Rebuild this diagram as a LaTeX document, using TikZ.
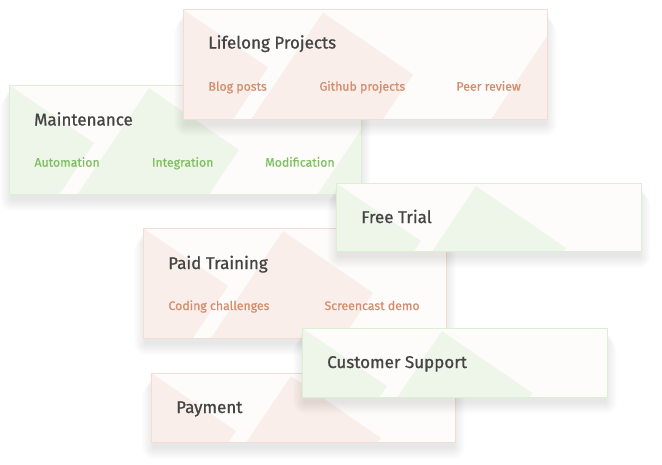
\documentclass[tikz,border=0pt]{standalone}
\usepackage{fontspec}
\setmainfont{Fira Sans}
\newfontfamily\titlefont{Fira Sans}[FakeBold=0.9]
\newfontfamily\itemfont{Fira Sans}[FakeBold=0.6]
\usetikzlibrary{calc}
\definecolor{cardbg}{HTML}{FDFCFA}
\definecolor{peborder}{HTML}{F2DDD3}
\definecolor{peshape}{HTML}{F9EEE9}
\definecolor{petext}{HTML}{D48C6E}
\definecolor{grborder}{HTML}{DCEED4}
\definecolor{grshape}{HTML}{EEF6EA}
\definecolor{grtext}{HTML}{7FBF62}
\definecolor{titletext}{HTML}{444444}
\tikzset{
  cardbox/.style={draw=#1border, fill=cardbg, line width=1pt, inner sep=0pt, outer sep=0pt, anchor=north west, rectangle},
  decoshape/.style={fill=#1shape},
  cardtitle/.style={anchor=base west, inner sep=0pt, text=titletext, font=\titlefont\fontsize{17}{19}\selectfont},
  carditem/.style={anchor=base west, inner sep=0pt, text=#1text, font=\itemfont\fontsize{12.3}{14}\selectfont},
}
\newcommand\drawcard[6]{%
  \foreach \s in {1,...,12}{
    \fill[black,opacity=0.007,rounded corners=\s pt] (#2-\s+3,#3+\s) rectangle (#2+#4+\s-2,#3+#5+\s+5);
  }
  \node[cardbox=#6, minimum width=#4pt, minimum height=#5pt] (#1) at (#2,#3) {};
  \begin{scope}
    \clip (#1.north west) rectangle (#1.south east);
    \begin{scope}[shift={(#2,#3)}]
      \fill[decoshape=#6] (-20,0) -- (0,0) -- (85,58) -- (-11,200) -- (-20,200) -- cycle;
      \fill[decoshape=#6] (140,3) -- (230,65) -- (139,200) -- (7.4,200) -- cycle;
      \fill[decoshape=#6] (380,3) -- (470,65) -- (379,200) -- (247.4,200) -- cycle;
    \end{scope}
  \end{scope}
  \draw[#6border, line width=1pt] (#1.north west) rectangle (#1.south east);
}
\begin{document}
\begin{tikzpicture}[x=1pt,y=-1pt]
\useasboundingbox (0,0) rectangle (662,464);
% Maintenance
\drawcard{mt}{9}{85}{352}{109}{gr}
\node[cardtitle] (mtT) at ($(mt.north west)+(25,40.5)$) {Maintenance};
\node[carditem=gr] (mt1) at ($(mt.north west)+(25.3,81.7)$) {Automation};
\node[carditem=gr] (mt2) at ($(mt.north west)+(142.7,81.7)$) {Integration};
\node[carditem=gr] (mt3) at ($(mt.north west)+(256,81.7)$) {Modification};
% Lifelong Projects
\drawcard{lp}{183}{9.5}{364}{109.5}{pe}
\node[cardtitle] (lpT) at ($(lp.north west)+(25,39)$) {Lifelong Projects};
\node[carditem=pe] (lp1) at ($(lp.north west)+(25.3,81.2)$) {Blog posts};
\node[carditem=pe] (lp2) at ($(lp.north west)+(136.3,81.2)$) {Github projects};
\node[carditem=pe] (lp3) at ($(lp.north west)+(273.3,81.2)$) {Peer review};
% Paid Training
\drawcard{pt}{143}{228}{303}{110}{pe}
\node[cardtitle] (ptT) at ($(pt.north west)+(25,41)$) {Paid Training};
\node[carditem=pe] (pt1) at ($(pt.north west)+(25.3,82)$) {Coding challenges};
\node[carditem=pe] (pt2) at ($(pt.north west)+(181.3,82)$) {Screencast demo};
% Free Trial
\drawcard{ft}{336}{183}{305}{68}{gr}
\node[cardtitle] (ftT) at ($(ft.north west)+(25,40)$) {Free Trial};
% Payment
\drawcard{pm}{151}{373}{304}{69}{pe}
\node[cardtitle] (pmT) at ($(pm.north west)+(25,40)$) {Payment};
% Customer Support
\drawcard{cs}{302}{328}{305}{69}{gr}
\node[cardtitle] (csT) at ($(cs.north west)+(25,40)$) {Customer Support};
\end{tikzpicture}
\end{document}
